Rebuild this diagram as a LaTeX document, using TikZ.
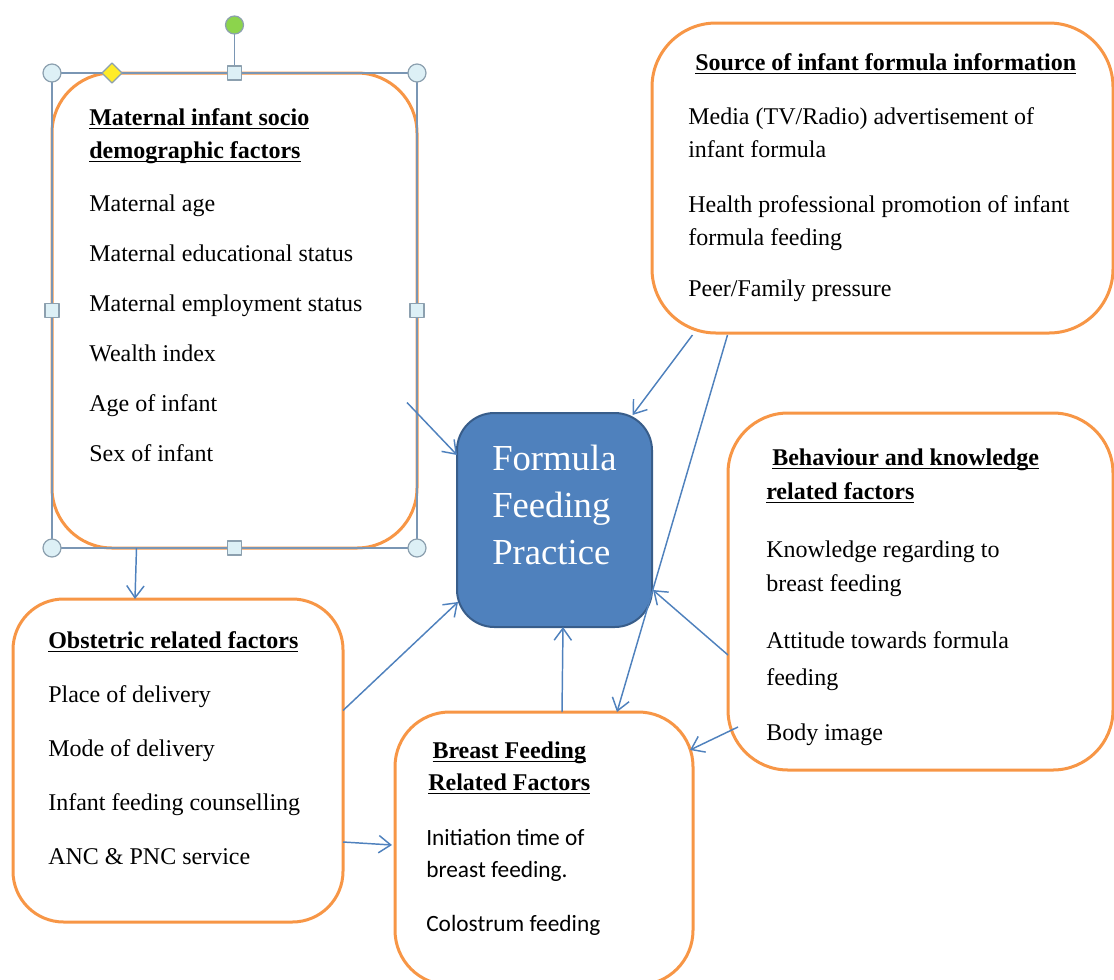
\documentclass[tikz,border=0pt]{standalone}
\usepackage{fontspec}
\setmainfont{Liberation Serif}
\newfontfamily\calibri{Carlito}
\usetikzlibrary{arrows.meta}
\definecolor{boxorange}{RGB}{247,150,70}
\definecolor{ffpblue}{RGB}{79,129,189}
\definecolor{ffpedge}{RGB}{56,93,138}
\definecolor{linkblue}{RGB}{79,129,189}
\definecolor{framegray}{RGB}{122,150,180}
\definecolor{handlefill}{RGB}{221,240,246}
\definecolor{handleedge}{RGB}{140,160,175}
\definecolor{handlegreen}{RGB}{140,212,76}
\definecolor{handleyellow}{RGB}{255,236,40}
\newcommand{\uhead}[1]{\leavevmode\setbox0\hbox{\textbf{#1}}\rlap{\rule[-2.8pt]{\wd0}{0.9pt}}\box0}
\begin{document}
\begin{tikzpicture}[x=0.75pt,y=-0.75pt,line join=round,
  factor/.style={draw=boxorange,line width=2.25pt,rounded corners=45pt,fill=white,inner sep=0pt,outer sep=0pt},
  practice/.style={draw=ffpedge,fill=ffpblue,line width=1.5pt,rounded corners=28pt,inner sep=0pt,outer sep=0pt},
  txt/.style={anchor=north west,inner sep=0pt,align=left,font=\fontsize{18}{24.75}\selectfont},
  handle/.style={draw=handleedge,fill=handlefill,line width=0.9pt},
  link/.style={draw=linkblue,line width=1.1pt,-{Straight Barb[length=9pt,width=13pt]}}]
\useasboundingbox (0,0) rectangle (1114,979);
\node[factor,minimum width=273.75pt,minimum height=356.25pt] (mat) at (234.5,310.5) {};
\node[factor,rounded corners=48pt,minimum width=345.75pt,minimum height=232.5pt] (src) at (882.5,178) {};
\node[practice,minimum width=146.25pt,minimum height=160.5pt] (ffp) at (554.5,520) {};
\node[factor,minimum width=288.75pt,minimum height=267.75pt] (beh) at (920.5,591.5) {};
\node[factor,rounded corners=38pt,minimum width=247.5pt,minimum height=242.25pt] (obs) at (178,760.5) {};
\node[factor,rounded corners=41pt,minimum width=223.5pt,minimum height=204.75pt] (bf) at (544,848.5) {};
\draw[framegray,line width=1.1pt] (mat.north west) rectangle (mat.south east);
\draw[framegray,line width=1.1pt] ([shift={(0,-48)}]mat.north) -- (mat.north);
\foreach \a in {north west,north east,south west,south east}
  \draw[handle] (mat.\a) circle[radius=9];
\foreach \a in {north,south,west,east}
  \draw[handle] ([shift={(-7,-7)}]mat.\a) rectangle ++(14,14);
\draw[handle,fill=handleyellow] ([shift={(50,0)}]mat.north west) -- ++(10,-10) -- ++(10,10) -- ++(-10,10) -- cycle;
\draw[handle,fill=handlegreen] ([shift={(0,-48)}]mat.north) circle[radius=9];
\node[txt] (mat-txt) at ([shift={(37,35.5)}]mat.north west) {\uhead{Maternal infant socio}\\
  \uhead{demographic factors}\\[15pt]
  Maternal age\\[12.75pt]
  Maternal educational status\\[12.75pt]
  Maternal employment status\\[12.75pt]
  Wealth index\\[12.75pt]
  Age of infant\\[12.75pt]
  Sex of infant};
\node[txt] (src-txt) at ([shift={(36,30.5)}]src.north west) {\hspace*{5.25pt}\uhead{Source of infant formula information}\\[15.75pt]
  Media (TV/Radio) advertisement of\\
  infant formula\\[16.5pt]
  Health professional promotion of infant\\
  formula feeding\\[13.5pt]
  Peer/Family pressure};
\node[txt,font=\fontsize{27.5}{35.25}\selectfont,text=white] (ffp-txt) at ([shift={(35,31.5)}]ffp.north west) {Formula\\Feeding\\Practice};
\node[txt,font=\fontsize{18}{25.5}\selectfont] (beh-txt) at ([shift={(38,35.5)}]beh.north west) {\hspace*{4.5pt}\uhead{Behaviour and knowledge}\\
  \uhead{related factors}\\[18pt]
  Knowledge regarding to\\
  breast feeding\\[17.25pt]
  Attitude towards formula\\[2.25pt]
  feeding\\[15.75pt]
  Body image};
\node[txt,font=\fontsize{18}{40.5}\selectfont] (obs-txt) at ([shift={(35,32.5)}]obs.north west) {\uhead{Obstetric related factors}\\
  Place of delivery\\
  Mode of delivery\\
  Infant feeding counselling\\
  ANC \& PNC service};
\node[txt,font=\fontsize{18}{24}\selectfont] (bf-txt) at ([shift={(31,29.5)}]bf.north west) {\makebox[124.5pt]{\uhead{Breast Feeding}}\\
  \makebox[124.5pt]{\uhead{Related Factors}}\\[17.25pt]
  {\calibri\fontsize{17.5}{24}\selectfont Initiation time of}\\
  {\calibri\fontsize{17.5}{24}\selectfont breast feeding.}\\[16.5pt]
  {\calibri\fontsize{17.5}{24}\selectfont Colostrum feeding}};
\draw[link] ([shift={(-10,92)}]mat.east) -- ([shift={(0,-65)}]ffp.west);
\draw[link] ([shift={(-98,0)}]mat.south) -- ([shift={(-43,0)}]obs.north);
\draw[link] ([shift={(0,-50)}]obs.east) -- ([shift={(1,82)}]ffp.west);
\draw[link] ([shift={(0,81.5)}]obs.east) -- ([shift={(-3,-3.5)}]bf.west);
\draw[link] ([shift={(18,0)}]bf.north) -- ([shift={(8.5,0)}]ffp.south);
\draw[link] ([shift={(-155,2)}]src.south) -- ([shift={(73,0)}]bf.north);
\draw[link] ([shift={(-190,2)}]src.south) -- ([shift={(78,2)}]ffp.north);
\draw[link] ([shift={(0,63.5)}]beh.west) -- ([shift={(1,70)}]ffp.east);
\draw[link] ([shift={(10,135.5)}]beh.west) -- ([shift={(-3,-98.5)}]bf.east);
\end{tikzpicture}
\end{document}
